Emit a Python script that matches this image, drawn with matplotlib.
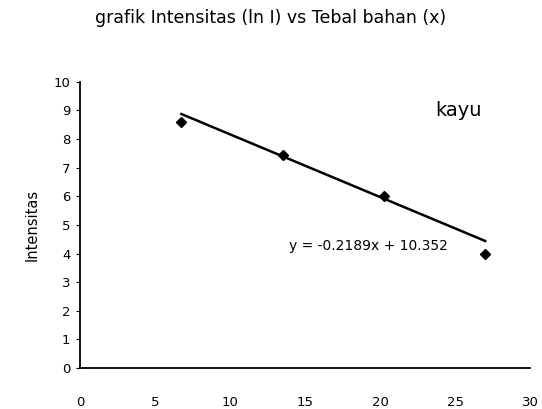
import matplotlib.pyplot as plt
import numpy as np

# data
tebal = [6.75, 13.5, 20.25, 27.0]
intensitas = [8.6, 7.45, 6.0, 4.0]
slope, intercept = -0.2189, 10.352

fig = plt.figure(figsize=(5.42, 4.09), dpi=100)
ax = fig.add_axes([0.148, 0.10, 0.83, 0.70])

# trend line from the equation shown on the chart
xl = np.array([tebal[0], tebal[-1]])
ax.plot(xl, slope * xl + intercept, color='black', linewidth=1.8, zorder=2)
ax.plot(tebal, intensitas, linestyle='none', marker='D', markersize=5,
        color='black', zorder=3)

ax.set_xlim(0, 30)
ax.set_ylim(0, 10)
ax.set_xticks(range(0, 31, 5))
ax.set_yticks(range(0, 11))
ax.tick_params(axis='x', length=0, pad=20, labelsize=9.5)
ax.tick_params(axis='y', length=3, pad=4, labelsize=9.5)
for s in ['top', 'right']:
    ax.spines[s].set_visible(False)
ax.spines['left'].set_linewidth(1.3)
ax.spines['bottom'].set_linewidth(1.3)

ax.set_ylabel('Intensitas', fontsize=10.5, labelpad=10)
fig.text(0.50, 0.955, 'grafik Intensitas (ln I) vs Tebal bahan (x)',
         ha='center', va='center', fontsize=12.5)
ax.text(0.84, 0.90, 'kayu', transform=ax.transAxes, ha='center', va='center',
        fontsize=14)
ax.text(0.465, 0.425, 'y = -0.2189x + 10.352', transform=ax.transAxes,
        ha='left', va='center', fontsize=10)

fig.savefig('out.png', dpi=100)
